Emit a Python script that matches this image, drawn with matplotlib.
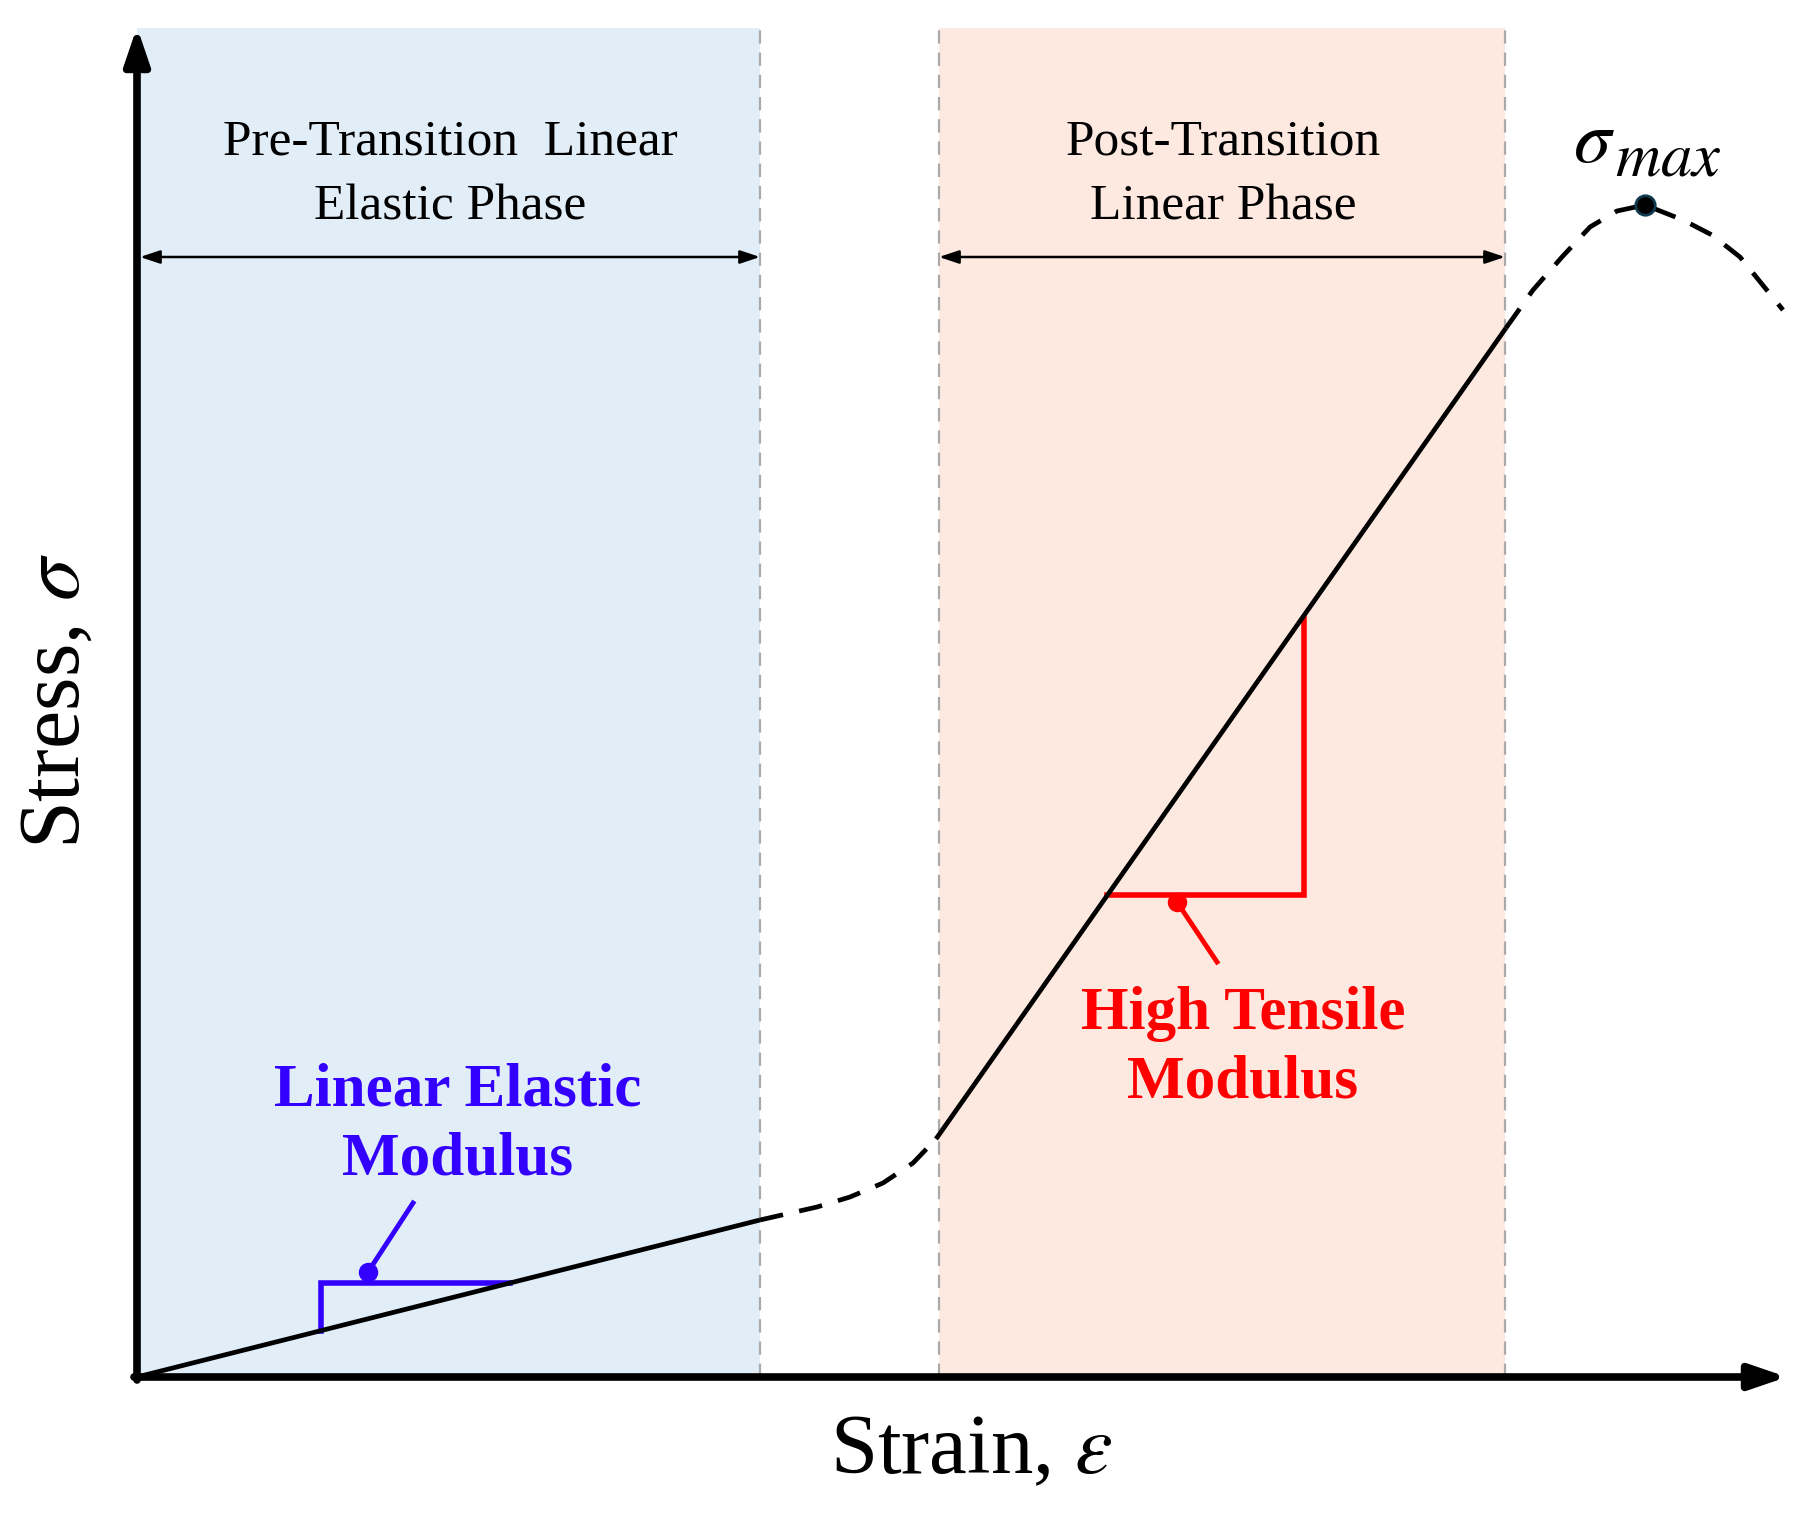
import numpy as np
import matplotlib
matplotlib.use("Agg")
import matplotlib.pyplot as plt

plt.rcParams["font.family"] = ["Liberation Serif", "DejaVu Serif"]
plt.rcParams["mathtext.fontset"] = "stix"

# curve pieces (strain, stress) in arbitrary units
elastic_strain = [0.0, 6.23]
elastic_stress = [0.0, 1.57]

transition_strain = [6.23, 6.80, 7.13, 7.46, 7.76, 7.99]
transition_stress = [1.57, 1.70, 1.80, 1.94, 2.14, 2.38]

post_strain = [7.99, 13.69]
post_stress = [2.38, 10.49]

failure_strain = [13.69, 13.96, 14.25, 14.53, 14.80, 15.08, 15.46, 15.75, 16.03, 16.46]
failure_stress = [10.49, 10.87, 11.20, 11.50, 11.66, 11.72, 11.57, 11.42, 11.20, 10.67]

peak = (15.08, 11.72)

# phase regions
pre_region = (0.0, 6.23)
post_region = (8.02, 13.68)
region_top = 13.49

# modulus triangles
blue_tri_x = [1.84, 1.84, 3.73]
blue_tri_y = [0.46, 0.94, 0.94]
blue_dot = (2.31, 1.05)
blue_lead = (2.76, 1.74)

red_tri_x = [9.70, 11.67, 11.67]
red_tri_y = [4.82, 4.82, 7.59]
red_dot = (10.40, 4.75)
red_lead = (10.80, 4.15)

BLUE = "#3300ff"
RED = "#ff0000"

fig = plt.figure(figsize=(18.17, 15.23), dpi=100)
ax = fig.add_axes([0, 0, 1, 1])
ax.set_xlim(-1.37, 16.80)
ax.set_ylim(-1.46, 13.77)
ax.axis("off")

# shaded phases
ax.fill_between(pre_region, 0, region_top, color="#e1eef8", zorder=0, lw=0)
ax.fill_between(post_region, 0, region_top, color="#fde9e0", zorder=0, lw=0)
for xv in [pre_region[1], post_region[0], post_region[1]]:
    ax.plot([xv, xv], [0, region_top], color="#aaaaaa", lw=1.6,
            dashes=(6, 4), zorder=1)

# axes arrows
ax.annotate("", xy=(16.5, 0), xytext=(-0.03, 0),
            arrowprops=dict(arrowstyle="-|>,head_length=2.2,head_width=0.75",
                            lw=5.5, color="black", shrinkA=0, shrinkB=0),
            zorder=5)
ax.annotate("", xy=(0, 13.5), xytext=(0, -0.03),
            arrowprops=dict(arrowstyle="-|>,head_length=2.2,head_width=0.75",
                            lw=5.5, color="black", shrinkA=0, shrinkB=0),
            zorder=5)

# stress-strain curve
ax.plot(elastic_strain, elastic_stress, color="black", lw=3.4,
        solid_capstyle="butt", zorder=3)
ax.plot(transition_strain, transition_stress, color="black", lw=3.4,
        dashes=(5, 3.5), zorder=3)
ax.plot(post_strain, post_stress, color="black", lw=3.4,
        solid_capstyle="butt", zorder=3)
ax.plot(failure_strain, failure_stress, color="black", lw=3.4,
        dashes=(5, 3.5), zorder=3)
ax.plot(*peak, "o", ms=14, mfc="black", mec="#0d3a4f", mew=2, zorder=4)

# phase span arrows
span_y = 11.2
ax.annotate("", xy=(pre_region[1], span_y), xytext=(pre_region[0] + 0.03, span_y),
            arrowprops=dict(arrowstyle="<|-|>,head_length=1.2,head_width=0.4",
                            lw=1.8, color="black", shrinkA=0, shrinkB=0))
ax.annotate("", xy=(post_region[1], span_y), xytext=(post_region[0], span_y),
            arrowprops=dict(arrowstyle="<|-|>,head_length=1.2,head_width=0.4",
                            lw=1.8, color="black", shrinkA=0, shrinkB=0))

ax.text(3.13, 12.02, "Pre-Transition  Linear\nElastic Phase", ha="center",
        va="center", fontsize=37, linespacing=1.52)
ax.text(10.86, 12.02, "Post-Transition\nLinear Phase", ha="center",
        va="center", fontsize=37, linespacing=1.52)

# sigma max label, subscript kept large as in the original
ax.text(14.78, 12.15, r"$\sigma$", ha="right", va="baseline", fontsize=54)
ax.text(14.78, 12.02, r"$max$", ha="left", va="baseline", fontsize=45)

# modulus markers
ax.plot(blue_tri_x, blue_tri_y, color=BLUE, lw=4, solid_joinstyle="miter", zorder=2)
ax.plot([blue_dot[0], blue_lead[0]], [blue_dot[1], blue_lead[1]], color=BLUE, lw=3.5)
ax.plot(*blue_dot, "o", ms=13, color=BLUE)
ax.text(3.21, 2.52, "Linear Elastic\nModulus", ha="center", va="center",
        fontsize=44, fontweight="bold", color=BLUE, linespacing=1.3)

ax.plot(red_tri_x, red_tri_y, color=RED, lw=4, solid_joinstyle="miter", zorder=2)
ax.plot([red_dot[0], red_lead[0]], [red_dot[1], red_lead[1]], color=RED, lw=3.5)
ax.plot(*red_dot, "o", ms=13, color=RED)
ax.text(11.06, 3.29, "High Tensile\nModulus", ha="center", va="center",
        fontsize=44, fontweight="bold", color=RED, linespacing=1.3)

# axis titles
ax.text(-0.79, 6.76, r"Stress, $\sigma$", rotation=90, ha="center",
        va="center", fontsize=62)
ax.text(8.34, -0.76, r"Strain, $\varepsilon$", ha="center", va="center",
        fontsize=61)

fig.savefig("out.png", dpi=100)
